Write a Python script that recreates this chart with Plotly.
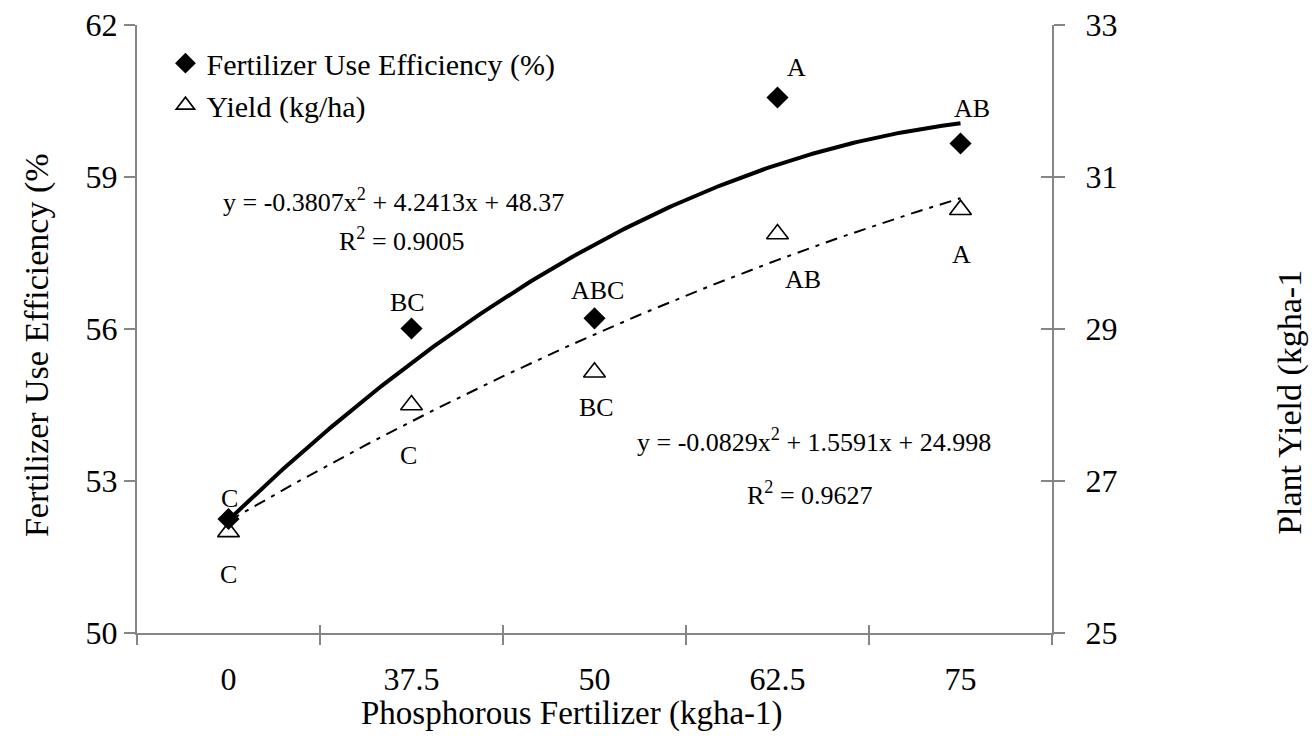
import numpy as np
import plotly.graph_objects as go

# ---- data ----
categories = ["0", "37.5", "50", "62.5", "75"]
fue_values = [52.25, 56.01, 56.21, 60.57, 59.66]      # Fertilizer Use Efficiency (%)
yield_values = [26.33, 28.00, 28.43, 30.25, 30.57]    # Yield (kg/ha)
fue_letters = ["C", "BC", "ABC", "A", "AB"]
yield_letters = ["C", "C", "BC", "AB", "A"]
fue_coef = [-0.3807, 4.2413, 48.37]      # quadratic trendline shown on chart
yield_coef = [-0.0829, 1.5591, 24.998]
left_ticks = [50, 53, 56, 59, 62]
right_ticks = [25, 27, 29, 31, 33]

# ---- styles / offsets (pixels) ----
fue_lbl_off = [(1, 21), (-4, 26), (3, 28), (19, 30), (11, 35)]
yld_lbl_off = [(0, -43), (-3, -50), (2, -35), (25, -45), (1, -45)]

FONT = "Liberation Serif, Times New Roman, serif"
AXC = "#868686"

pos = list(range(len(categories)))
xs = np.linspace(1, len(categories), 200)
fue_fit = fue_coef[0] * xs**2 + fue_coef[1] * xs + fue_coef[2]
yld_fit = yield_coef[0] * xs**2 + yield_coef[1] * xs + yield_coef[2]

fig = go.Figure()
fig.add_trace(go.Scatter(x=xs - 1, y=fue_fit, mode="lines", line=dict(color="black", width=4),
                         showlegend=False, hoverinfo="skip"))
fig.add_trace(go.Scatter(x=xs - 1, y=yld_fit, mode="lines", yaxis="y2",
                         line=dict(color="black", width=2, dash="12px,7px,4px,7px"),
                         showlegend=False, hoverinfo="skip"))
fig.add_trace(go.Scatter(x=pos, y=fue_values, mode="markers", name="Fertilizer Use Efficiency (%)",
                         marker=dict(symbol="diamond", size=17, color="black")))
fig.add_trace(go.Scatter(x=pos, y=yield_values, mode="markers", name="Yield (kg/ha)", yaxis="y2",
                         marker=dict(symbol="triangle-up-open", size=19, color="black",
                                     line=dict(width=1.6, color="black"))))
# invisible trace to activate overlay axes (inner tick halves)
fig.add_trace(go.Scatter(x=[0], y=[right_ticks[0]], xaxis="x2", yaxis="y3", mode="markers",
                         marker=dict(opacity=0), showlegend=False, hoverinfo="skip"))

ann = []
for i, t in enumerate(fue_letters):
    ann.append(dict(x=pos[i], y=fue_values[i], xref="x", yref="y", text=t, showarrow=False,
                    xshift=fue_lbl_off[i][0], yshift=fue_lbl_off[i][1],
                    font=dict(family=FONT, size=26, color="black")))
for i, t in enumerate(yield_letters):
    ann.append(dict(x=pos[i], y=yield_values[i], xref="x", yref="y2", text=t, showarrow=False,
                    xshift=yld_lbl_off[i][0], yshift=yld_lbl_off[i][1],
                    font=dict(family=FONT, size=26, color="black")))

eq1 = "y = %.4fx<sup>2</sup> + %.4fx + %.2f" % tuple(fue_coef)
eq2 = "y = %.4fx<sup>2</sup> + %.4fx + %.3f" % tuple(yield_coef)
txt = [
    (eq1, 0.280, 0.712),
    ("R<sup>2</sup> = 0.9005", 0.290, 0.648),
    (eq2, 0.740, 0.316),
    ("R<sup>2</sup> = 0.9627", 0.7355, 0.229),
]
for t, x, y in txt:
    ann.append(dict(x=x, y=y, xref="paper", yref="paper", text=t, showarrow=False,
                    xanchor="center", yanchor="middle",
                    font=dict(family=FONT, size=26, color="black")))

ann.append(dict(x=-0.109, y=0.474, xref="paper", yref="paper", text="Fertilizer Use Efficiency (%",
                textangle=-90, showarrow=False, xanchor="center", yanchor="middle",
                font=dict(family=FONT, size=34, color="black")))
ann.append(dict(x=1.260, y=0.380, xref="paper", yref="paper", text="Plant Yield (kgha-1",
                textangle=-90, showarrow=False, xanchor="center", yanchor="middle",
                font=dict(family=FONT, size=34, color="black")))
ann.append(dict(x=0.475, y=-0.133, xref="paper", yref="paper", text="Phosphorous Fertilizer (kgha-1)",
                showarrow=False, xanchor="center", yanchor="middle",
                font=dict(family=FONT, size=33, color="black")))

bounds = [p - 0.5 for p in pos] + [pos[-1] + 0.5]

fig.update_layout(
    width=1315, height=738,
    margin=dict(l=137, r=263, t=25, b=105, autoexpand=False),
    paper_bgcolor="white", plot_bgcolor="white",
    font=dict(family=FONT, color="black"),
    showlegend=True,
    legend=dict(x=0.030, y=0.980, xanchor="left", yanchor="top", bgcolor="rgba(0,0,0,0)",
                font=dict(family=FONT, size=30, color="black"), tracegroupgap=0, itemwidth=32),
    xaxis=dict(range=[-0.5, len(categories) - 0.5], tickmode="array", tickvals=pos, ticktext=categories,
               ticks="", showline=True, linecolor=AXC, linewidth=2, showgrid=False, zeroline=False,
               tickfont=dict(family=FONT, size=32, color="black"), ticklabelstandoff=17,
               minor=dict(tickmode="array", tickvals=bounds, ticks="outside", ticklen=10,
                          tickcolor=AXC, tickwidth=1.5, showgrid=False)),
    xaxis2=dict(range=[-0.5, len(categories) - 0.5], overlaying="x", anchor="y", side="bottom",
                tickmode="array", tickvals=bounds, ticks="inside", ticklen=8, tickcolor=AXC,
                tickwidth=1.5, showticklabels=False, showline=False, showgrid=False, zeroline=False),
    yaxis=dict(range=[left_ticks[0], left_ticks[-1]], tickmode="array", tickvals=left_ticks,
               ticks="outside", ticklen=11, tickcolor=AXC, tickwidth=1.5, showline=True,
               linecolor=AXC, linewidth=2, showgrid=False, zeroline=False,
               tickfont=dict(family=FONT, size=32, color="black")),
    yaxis2=dict(range=[right_ticks[0], right_ticks[-1]], tickmode="array", tickvals=right_ticks,
                overlaying="y", side="right", anchor="x",
                ticks="outside", ticklen=11, tickcolor=AXC, tickwidth=1.5, showline=True,
                linecolor=AXC, linewidth=2, showgrid=False, zeroline=False, ticklabelstandoff=14,
                tickfont=dict(family=FONT, size=32, color="black")),
    yaxis3=dict(range=[right_ticks[0], right_ticks[-1]], tickmode="array", tickvals=right_ticks,
                overlaying="y", side="right", anchor="x", ticks="inside", ticklen=11, tickcolor=AXC,
                tickwidth=1.5, showticklabels=False, showline=False, showgrid=False, zeroline=False),
    annotations=ann,
)

fig.write_html("out.html", config={"displayModeBar": False},
               post_script="document.body.style.margin='0';document.body.style.overflow='hidden';")
